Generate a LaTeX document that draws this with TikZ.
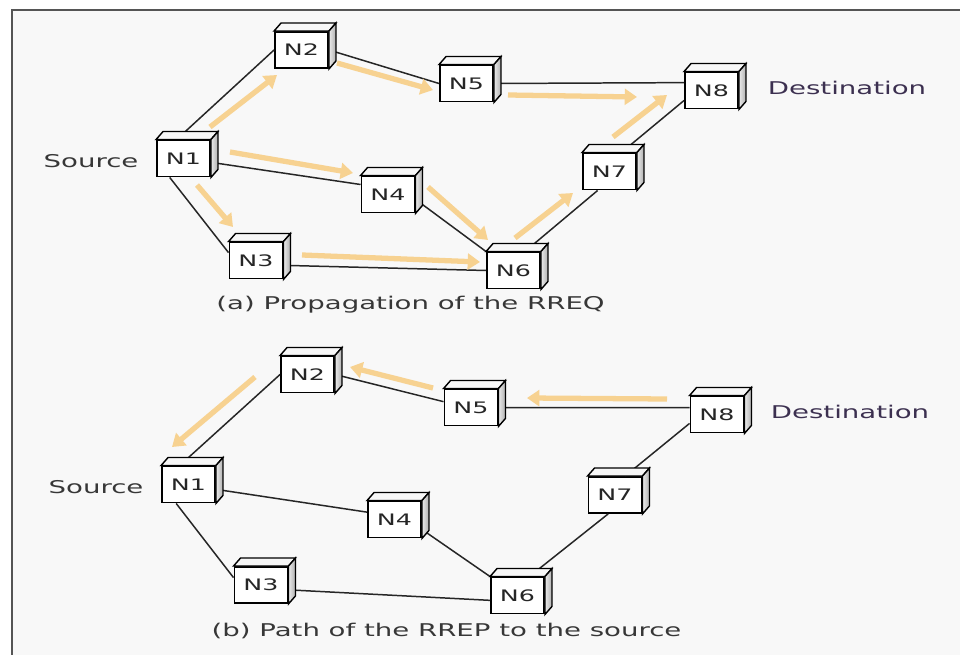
\documentclass[tikz,border=0pt]{standalone}
\usepackage{fontspec}
\setmainfont{DejaVu Sans}
\usepackage{graphicx}
\usetikzlibrary{arrows.meta, calc}
\definecolor{framegray}{RGB}{85,85,85}
\definecolor{paperbg}{RGB}{248,248,248}
\definecolor{rreqorange}{RGB}{247,210,145}
\definecolor{sidegray}{RGB}{175,175,175}
\definecolor{labelink}{RGB}{55,55,55}
\definecolor{destink}{RGB}{60,48,80}
% text in the reference is stretched sideways
\newcommand{\wide}[1]{\scalebox{1.57}[1]{#1}}
\newcommand{\hostname}[1]{\scalebox{1.6}[1]{#1}}

\tikzset{
  host/.style={draw=black, line width=1.1pt, fill=white, minimum width=1.06cm,
    minimum height=0.72cm, inner sep=0pt, text=black!85,
    font=\fontsize{9}{10}\selectfont},
  hostside/.style={draw=black, line width=0.8pt, left color=black!8, right color=sidegray},
  hosttop/.style={draw=black, line width=0.8pt, fill=black!3},
  link/.style={draw=black!85, line width=0.85pt},
  rreq/.style={draw=rreqorange, line width=3pt, -{Triangle[length=7pt,width=9pt]}},
  tag/.style={text=labelink, font=\fontsize{10}{12}\selectfont},
  figcap/.style={text=labelink, font=\fontsize{10}{12}\selectfont}
}

\begin{document}
\begin{tikzpicture}[x=0.02cm, y=-0.02cm]
  \useasboundingbox (0,0) rectangle (960,655);
  % 背景和边框
  \fill[white] (0,0) rectangle (960,655);
  \fill[paperbg] (12,10) rectangle (960,655);
  \draw[framegray, line width=1.6pt] (12,655) -- (12,10) -- (960,10);

  % (a) nodes
  \node[host] (a1) at (183.5,158.5) {\hostname{N1}};
  \node[host] (a2) at (301.5,50)    {\hostname{N2}};
  \node[host] (a3) at (256,260.5)   {\hostname{N3}};
  \node[host] (a4) at (388,194.5)   {\hostname{N4}};
  \node[host] (a5) at (466.5,83.5)  {\hostname{N5}};
  \node[host] (a6) at (513.5,270.5) {\hostname{N6}};
  \node[host] (a7) at (609.5,171.5) {\hostname{N7}};
  \node[host] (a8) at (711.5,90.5)  {\hostname{N8}};
  \node[tag] (srca) at (91,161) {\wide{Source}};
  \node[tag, text=destink] (dsta) at (847,88) {\wide{Destination}};
  \node[figcap] (capa) at (410.5,305) {\wide{(a) Propagation of the RREQ}};

  % (a) links
  \draw[link] (a1.110) -- (a2.west);
  \draw[link] (a1.-8) -- (a4.160);
  \draw[link] (a1.234) -- (a3.164);
  \draw[link] (a2.east) -- (a5.west);
  \draw[link] (a5.east) -- (a8.164);
  \draw[link] (a4.-10) -- (a6.north west);
  \draw[link] (a3.-10) -- (a6.west);
  \draw[link] (a6.59) -- (a7.238);
  \draw[link] (a7.58) -- (a8.200);

  % (a) RREQ flooding
  \draw[rreq] ([shift={(26.5,-31.5)}]a1.center) -- ([shift={(-24.5,25)}]a2.center);
  \draw[rreq] ([shift={(35.5,13)}]a2.center) -- ([shift={(-33.5,6.5)}]a5.center);
  \draw[rreq] ([shift={(41.5,11.5)}]a5.center) -- ([shift={(-74.5,6.5)}]a8.center);
  \draw[rreq] ([shift={(46.5,-6.5)}]a1.center) -- ([shift={(-35,-21.5)}]a4.center);
  \draw[rreq] ([shift={(13.5,26.5)}]a1.center) -- ([shift={(-23,-33.5)}]a3.center);
  \draw[rreq] ([shift={(40,-7.5)}]a4.center) -- ([shift={(-25.5,-30.5)}]a6.center);
  \draw[rreq] ([shift={(46,-5.5)}]a3.center) -- ([shift={(-33.5,-8.5)}]a6.center);
  \draw[rreq] ([shift={(1.5,-32.5)}]a6.center) -- ([shift={(-36.5,21.5)}]a7.center);
  \draw[rreq] ([shift={(3.5,-34.5)}]a7.center) -- ([shift={(-44.5,4.5)}]a8.center);

  % (b) nodes
  \node[host] (b1) at (188.5,484.5) {\hostname{N1}};
  \node[host] (b2) at (307.5,374.5) {\hostname{N2}};
  \node[host] (b3) at (261,585)     {\hostname{N3}};
  \node[host] (b4) at (394.5,519.5) {\hostname{N4}};
  \node[host] (b5) at (471,407.5)   {\hostname{N5}};
  \node[host] (b6) at (517.5,595.5) {\hostname{N6}};
  \node[host] (b7) at (615,495)     {\hostname{N7}};
  \node[host] (b8) at (717,414.5)   {\hostname{N8}};
  \node[tag] (srcb) at (96,487) {\wide{Source}};
  \node[tag, text=destink] (dstb) at (850,412) {\wide{Destination}};
  \node[figcap] (capb) at (446.5,631) {\wide{(b) Path of the RREP to the source}};

  % (b) links
  \draw[link] (b1.115) -- (b2.west);
  \draw[link] (b1.-10) -- (b4.165);
  \draw[link] (b1.237) -- (b3.165);
  \draw[link] (b2.east) -- (b5.168);
  \draw[link] (b5.east) -- (b8.166);
  \draw[link] (b4.-20) -- (b6.north west);
  \draw[link] (b3.-10) -- (b6.190);
  \draw[link] (b6.58) -- (b7.250);
  \draw[link] (b7.62) -- (b8.198);

  % (b) RREP back to the source
  \draw[rreq] ([shift={(-50,-15.5)}]b8.center) -- ([shift={(56,-9.5)}]b5.center);
  \draw[rreq] ([shift={(-38,-19.5)}]b5.center) -- ([shift={(42.5,-7.5)}]b2.center);
  \draw[rreq] ([shift={(-52.5,2.5)}]b2.center) -- ([shift={(-16.5,-37.5)}]b1.center);

  % 立体盒子的顶面和侧面
  \foreach \n in {a1,a2,a3,a4,a5,a6,a7,a8,b1,b2,b3,b4,b5,b6,b7,b8} {
    \draw[hosttop] (\n.north west) -- ++(7,-8) -- ([shift={(7,-8)}]\n.north east)
      -- (\n.north east) -- cycle;
    \draw[hostside] (\n.north east) -- ++(7,-8) -- ([shift={(7,-8)}]\n.south east)
      -- (\n.south east) -- cycle;
  }
\end{tikzpicture}
\end{document}
